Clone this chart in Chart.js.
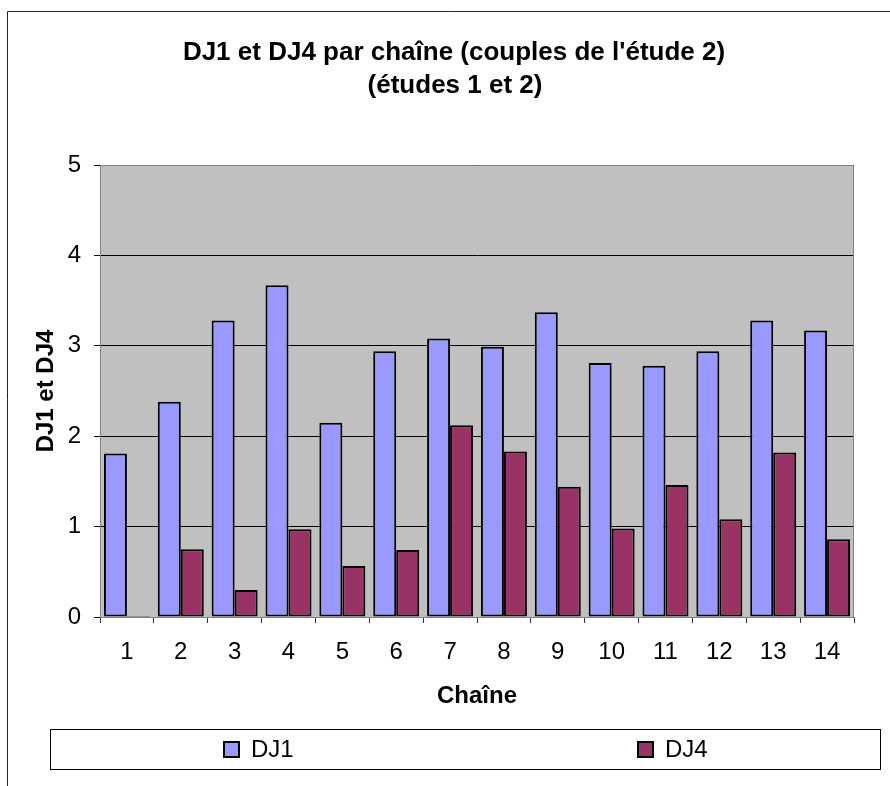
<!DOCTYPE html>
<html>
<head>
<meta charset="utf-8">
<script src="https://cdn.jsdelivr.net/npm/chart.js@4.4.0/dist/chart.umd.min.js"></script>
<style>
  html, body { margin: 0; padding: 0; background: #fff; }
  canvas { display: block; }
</style>
</head>
<body>
<canvas id="chart" width="890" height="786"></canvas>
<script>
// data
const chaines = ["1", "2", "3", "4", "5", "6", "7", "8", "9", "10", "11", "12", "13", "14"];
const dj1 = [1.81, 2.38, 3.28, 3.67, 2.15, 2.94, 3.08, 2.99, 3.37, 2.81, 2.78, 2.94, 3.28, 3.17];
const dj4 = [0.01, 0.75, 0.30, 0.97, 0.565, 0.74, 2.12, 1.83, 1.44, 0.98, 1.46, 1.08, 1.82, 0.86];
const yTicks = [0, 1, 2, 3, 4, 5];
const titleLines = ["DJ1 et DJ4 par chaîne (couples de l'étude 2)", "(études 1 et 2)"];
const yTitle = "DJ1 et DJ4";
const xTitle = "Chaîne";

const FONT = '"Liberation Sans", Arial, sans-serif';

// grey plot area + outer frame
const backdrop = {
  id: "backdrop",
  beforeDraw(chart) {
    const { ctx, chartArea: a } = chart;
    ctx.save();
    ctx.fillStyle = "#fff";
    ctx.fillRect(0, 0, chart.width, chart.height);
    ctx.fillStyle = "#C0C0C0";
    ctx.fillRect(a.left, a.top, a.right - a.left, a.bottom - a.top);
    ctx.strokeStyle = "#222";
    ctx.lineWidth = 1;
    ctx.beginPath();
    ctx.moveTo(7.5, chart.height + 2);
    ctx.lineTo(7.5, 11.5);
    ctx.lineTo(chart.width + 2, 11.5);
    ctx.stroke();
    ctx.restore();
  },
  afterDraw(chart) {
    const { ctx, chartArea: a } = chart;
    ctx.save();
    // plot frame top / right
    ctx.strokeStyle = "#808080";
    ctx.lineWidth = 1;
    ctx.beginPath();
    ctx.moveTo(a.left, a.top + 0.5);
    ctx.lineTo(a.right - 0.5, a.top + 0.5);
    ctx.lineTo(a.right - 0.5, a.bottom);
    ctx.stroke();

    // title
    ctx.fillStyle = "#000";
    ctx.font = "bold 26px " + FONT;
    ctx.textAlign = "center";
    ctx.textBaseline = "alphabetic";
    ctx.fillText(titleLines[0], 454, 60);
    ctx.fillText(titleLines[1], 455, 93);

    // legend box
    ctx.strokeStyle = "#000";
    ctx.strokeRect(50.5, 729.5, 830, 40);
    ctx.font = "24px " + FONT;
    ctx.textAlign = "left";
    ctx.textBaseline = "middle";
    const itemX = [224, 638];
    chart.data.datasets.forEach((ds, i) => {
      const x = itemX[i];
      ctx.fillStyle = ds.backgroundColor;
      ctx.fillRect(x, 742, 15, 15);
      ctx.lineWidth = 2;
      ctx.strokeRect(x, 742, 15, 15);
      ctx.fillStyle = "#000";
      ctx.fillText(ds.label, x + 27, 750);
    });
    ctx.restore();
  }
};

new Chart(document.getElementById("chart"), {
  type: "bar",
  data: {
    labels: chaines,
    datasets: [
      { label: "DJ1", data: dj1, backgroundColor: "#9999FF" },
      { label: "DJ4", data: dj4, backgroundColor: "#993366" }
    ]
  },
  options: {
    responsive: false,
    animation: false,
    layout: { padding: { top: 165, right: 36, left: 0, bottom: 0 } },
    datasets: {
      bar: { borderColor: "#000", borderWidth: 2, borderSkipped: false,
             categoryPercentage: 0.854, barPercentage: 1 }
    },
    plugins: {
      legend: { display: false },
      title: { display: false },
      tooltip: { enabled: false }
    },
    scales: {
      x: {
        afterFit: s => { s.height = 169; },
        grid: { offset: true, drawOnChartArea: false, drawTicks: true, tickLength: 6, color: "#333" },
        border: { color: "#808080", width: 1 },
        ticks: { color: "#000", padding: 15, font: { family: FONT, size: 24 } },
        title: { display: true, text: xTitle, color: "#000",
                 font: { family: FONT, size: 24, weight: "bold" }, padding: { top: 0, bottom: 75 } }
      },
      y: {
        min: 0, max: 5,
        afterFit: s => { s.width = 100; },
        afterBuildTicks: s => { s.ticks = yTicks.map(v => ({ value: v })); },
        grid: { color: "#000", lineWidth: 1, tickLength: 6 },
        border: { color: "#808080", width: 1 },
        ticks: { color: "#000", padding: 13, font: { family: FONT, size: 24 } },
        title: { display: true, text: yTitle, color: "#000",
                 font: { family: FONT, size: 24, weight: "bold" }, padding: { top: 32, bottom: 0 } }
      }
    }
  },
  plugins: [backdrop]
});
</script>
</body>
</html>
